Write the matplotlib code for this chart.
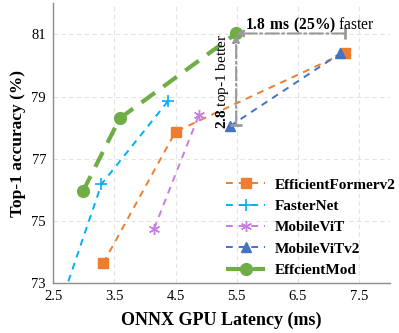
import numpy as np
import matplotlib.pyplot as plt

plt.rcParams['font.family'] = ['Liberation Serif', 'DejaVu Serif']
plt.rcParams['mathtext.fontset'] = 'custom'
plt.rcParams['mathtext.rm'] = 'Liberation Serif'
plt.rcParams['mathtext.bf'] = 'Liberation Serif:bold'

# --- data ---
effformer_x = [3.32, 4.50, 7.27]
effformer_y = [73.64, 77.87, 80.41]

fasternet_x = [2.55, 3.29, 4.38]
fasternet_y = [71.9, 76.18, 78.86]

mobilevit_x = [4.15, 4.88]
mobilevit_y = [74.75, 78.40]

mobilevitv2_x = [5.39, 7.19]
mobilevitv2_y = [78.05, 80.39]

effmod_x = [2.99, 3.59, 5.49]
effmod_y = [75.96, 78.30, 81.03]

xticks = [2.5, 3.5, 4.5, 5.5, 6.5, 7.5]
yticks = [73, 75, 77, 79, 81]

fig = plt.figure(figsize=(3.99, 3.33), dpi=100)
ax = fig.add_axes([0.133, 0.150, 0.844, 0.840])

ax.plot(effformer_x, effformer_y, ls=(0, (3.5, 3)), lw=1.4, color='#ED7D31',
        marker='s', ms=7, label='EfficientFormerv2')
ax.plot(fasternet_x, fasternet_y, ls=(0, (3.5, 3)), lw=1.4, color='#00B0F0',
        marker='+', ms=8, mew=1.2, label='FasterNet')
ax.plot(mobilevit_x, mobilevit_y, ls=(0, (3.5, 3)), lw=1.4, color='#C77CE0',
        marker=(6, 2, 0), ms=8, mew=1.0, label='MobileViT')
ax.plot(mobilevitv2_x, mobilevitv2_y, ls=(0, (3.5, 3)), lw=1.4, color='#4472C4',
        marker='^', ms=7.5, label='MobileViTv2')
ax.plot(effmod_x, effmod_y, ls=(0, (4, 2.5)), lw=3, color='#70AD47',
        marker='o', ms=8.5, label='EffcientMod')

# annotations: latency and accuracy gaps
gray = '#9A9A9A'
ax.annotate('', xy=(effmod_x[-1], effmod_y[-1]), xytext=(effformer_x[-1], effmod_y[-1]),
            arrowprops=dict(arrowstyle='-|>', color=gray, lw=1.5, ls='-.',
                            shrinkA=0, shrinkB=0, mutation_scale=10))
ax.plot([effformer_x[-1]], [effmod_y[-1]], marker='|', ms=9, mew=2, color=gray)
ax.annotate('', xy=(effmod_x[-1], effmod_y[-1] - 0.05), xytext=(effmod_x[-1], mobilevitv2_y[0] + 0.05),
            arrowprops=dict(arrowstyle='-|>', color=gray, lw=1.5, ls='-.',
                            shrinkA=0, shrinkB=0, mutation_scale=10))
ax.plot([effmod_x[-1]], [mobilevitv2_y[0] + 0.05], marker='_', ms=9, mew=2, color=gray)

ax.text(5.63, 81.28, r'$\mathbf{1.8\ ms\ (25\%)}$ faster', fontsize=11.2,
        va='center', ha='left')
ax.text(5.27, 77.95, r'$\mathbf{2.8}$ top-1 better', fontsize=11, rotation=90,
        va='bottom', ha='center')

ax.set_xlim(2.5, 8.0)
ax.set_ylim(73, 82)
ax.set_xticks(xticks)
ax.set_yticks(yticks)
ax.set_xticklabels([f'{v:.1f}' for v in xticks])
ax.tick_params(length=0, labelsize=10.5, pad=5)
ax.grid(True, ls=(0, (4, 3)), color='#E3E3E3', lw=0.8)
ax.set_axisbelow(True)
for s in ['top', 'right']:
    ax.spines[s].set_visible(False)
for s in ['left', 'bottom']:
    ax.spines[s].set_color('#8C8C8C')
    ax.spines[s].set_linewidth(1.0)

ax.set_xlabel('ONNX GPU Latency (ms)', fontsize=13, fontweight='bold', labelpad=6)
ax.set_ylabel('Top-1 accuracy (%)', fontsize=12.5, fontweight='bold', labelpad=4)

leg = ax.legend(loc='lower right', bbox_to_anchor=(1.035, 0.0), frameon=False,
                prop={'weight': 'bold', 'size': 11},
                handlelength=2.6, labelspacing=0.5, borderaxespad=0.0, handletextpad=0.6)

fig.savefig('out.png', dpi=100)
